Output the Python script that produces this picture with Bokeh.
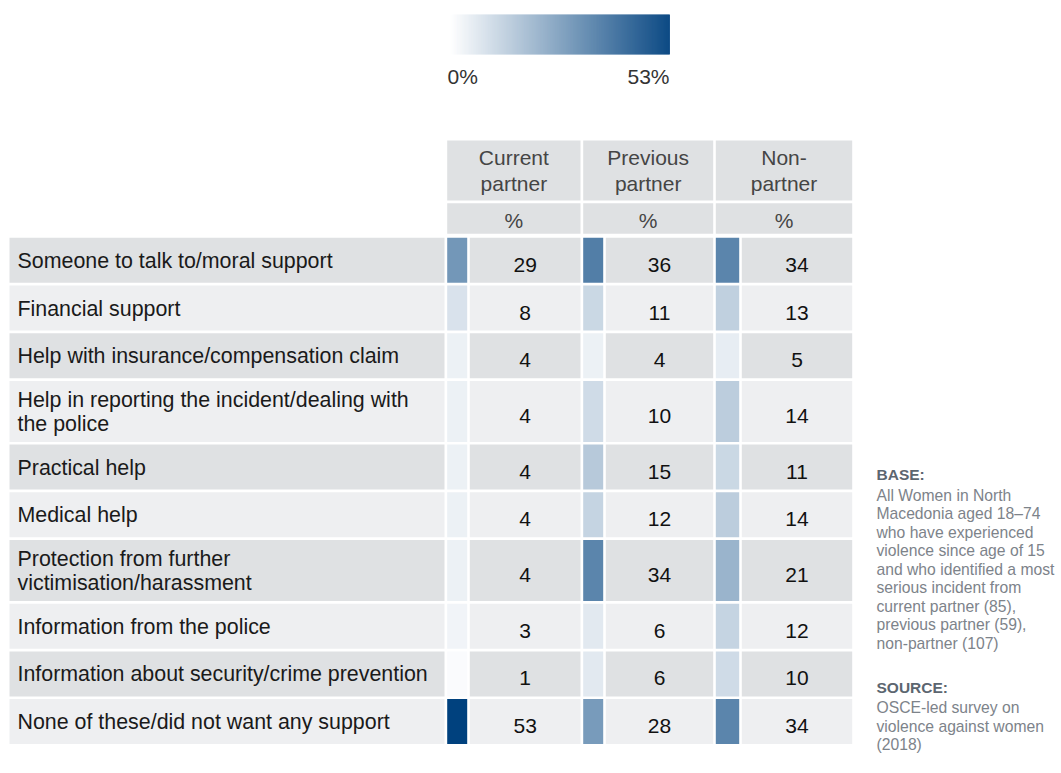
from bokeh.plotting import figure
from bokeh.models import Range1d, ColumnDataSource
from bokeh.core.properties import value
from bokeh.embed import file_html
from bokeh.resources import INLINE

# ---------------- data ----------------
categories = [
    "Someone to talk to/moral support",
    "Financial support",
    "Help with insurance/compensation claim",
    "Help in reporting the incident/dealing with\nthe police",
    "Practical help",
    "Medical help",
    "Protection from further\nvictimisation/harassment",
    "Information from the police",
    "Information about security/crime prevention",
    "None of these/did not want any support",
]
groups = ["Current\npartner", "Previous\npartner", "Non-\npartner"]
unit_label = "%"
current = [29, 8, 4, 4, 4, 4, 4, 3, 1, 53]
previous = [36, 11, 4, 10, 15, 12, 34, 6, 6, 28]
non_partner = [34, 13, 5, 14, 11, 14, 21, 12, 10, 34]
series = [current, previous, non_partner]

base_title = "BASE:"
base_lines = [
    "All Women in North",
    "Macedonia aged 18\u201374",
    "who have experienced",
    "violence since age of 15",
    "and who identified a most",
    "serious incident from",
    "current partner (85),",
    "previous partner (59),",
    "non-partner (107)",
]
source_title = "SOURCE:"
source_lines = ["OSCE-led survey on", "violence against women", "(2018)"]

# ---------------- style / layout ----------------
FONT = value("Liberation Sans")
W, H = 1061, 765
LOW = (255, 255, 255)
HIGH = (0, 65, 126)
ROW_ODD = "#dfe1e3"
ROW_EVEN = "#eeeff1"
HEAD_BG = "#dfe1e3"

vmax = max(max(s) for s in series)


def shade(v):
    t = v / vmax
    r, g, b = (round(lo + (hi - lo) * t) for lo, hi in zip(LOW, HIGH))
    return "#%02x%02x%02x" % (r, g, b)


p = figure(width=W, height=H, x_range=Range1d(0, W), y_range=Range1d(H, 0),
           output_backend="svg", toolbar_location=None, min_border=0,
           x_axis_location=None, y_axis_location=None)
p.grid.visible = False
p.outline_line_color = None
p.background_fill_color = "white"
p.border_fill_color = "white"

LABEL_X0, LABEL_X1 = 9.0, 444.0
COLS = [(446.7, 466.7, 469.3, 580.0), (582.7, 602.7, 605.3, 712.7), (715.3, 738.7, 741.3, 851.7)]
HEAD1 = (140.0, 200.0)
HEAD2 = (202.7, 233.3)
ROW_TOP0 = 237.3
ROW_H1 = 45.0
ROW_LINE_EXTRA = 16.0
ROW_GAP = 2.7
LABEL_LH = 24.5
HEAD_LH = 26.0

quads = dict(left=[], right=[], top=[], bottom=[], color=[])
texts = dict(x=[], y=[], text=[], align=[], color=[], size=[], style=[])


def add_quad(l, r, t, b, c):
    quads["left"].append(l); quads["right"].append(r)
    quads["top"].append(t); quads["bottom"].append(b); quads["color"].append(c)


def add_text(x, y, s, align="left", color="#1a1a1a", size="21px", style="normal"):
    texts["x"].append(x); texts["y"].append(y); texts["text"].append(s)
    texts["align"].append(align); texts["color"].append(color)
    texts["size"].append(size); texts["style"].append(style)


# header
for (s0, s1, v0, v1), g in zip(COLS, groups):
    add_quad(s0, v1, HEAD1[0], HEAD1[1], HEAD_BG)
    add_quad(s0, v1, HEAD2[0], HEAD2[1], HEAD_BG)
    cx = (s0 + v1) / 2
    lines = g.split("\n")
    cy = (HEAD1[0] + HEAD1[1]) / 2
    for k, ln in enumerate(lines):
        add_text(cx, cy + (k - (len(lines) - 1) / 2) * HEAD_LH, ln, "center", "#454545")
    add_text(cx, (HEAD2[0] + HEAD2[1]) / 2 + 1.5, unit_label, "center", "#454545")

# body rows
y = ROW_TOP0
for i, cat in enumerate(categories):
    lines = cat.split("\n")
    h = ROW_H1 + ROW_LINE_EXTRA * (len(lines) - 1)
    y0, y1 = y, y + h
    bg = ROW_ODD if i % 2 == 0 else ROW_EVEN
    add_quad(LABEL_X0, LABEL_X1, y0, y1, bg)
    cy = (y0 + y1) / 2
    for k, ln in enumerate(lines):
        add_text(17, cy + 0.5 + (k - (len(lines) - 1) / 2) * LABEL_LH, ln, "left", "#1a1a1a", "21.4px")
    for (s0, s1, v0, v1), s in zip(COLS, series):
        add_quad(s0, s1, y0, y1, shade(s[i]))
        add_quad(v0, v1, y0, y1, bg)
        add_text((v0 + v1) / 2, cy + 4.5, str(s[i]), "center", "#111111")
    y = y1 + ROW_GAP

# colour bar legend
CB_X0, CB_X1, CB_Y0, CB_Y1 = 450.0, 669.0, 14.0, 54.0
steps = int(CB_X1 - CB_X0)
for k in range(steps):
    v = vmax * (k + 0.5) / steps
    add_quad(CB_X0 + k * (CB_X1 - CB_X0) / steps, CB_X0 + (k + 1) * (CB_X1 - CB_X0) / steps + 0.4,
             CB_Y0, CB_Y1, shade(v))
add_text(447, 75.5, "0%", "left", "#333333")
add_text(669, 75.5, "%d%%" % vmax, "right", "#333333")

# notes
NX = 876
add_text(NX, 474, base_title, "left", "#5c6670", "15.5px", "bold")
for k, ln in enumerate(base_lines):
    add_text(NX, 494.5 + k * 18.5, ln, "left", "#7d838a", "15.7px")
add_text(NX, 687, source_title, "left", "#5c6670", "15.5px", "bold")
for k, ln in enumerate(source_lines):
    add_text(NX, 707 + k * 18.5, ln, "left", "#7d838a", "15.7px")

p.quad(left="left", right="right", top="top", bottom="bottom", fill_color="color",
       line_color=None, source=ColumnDataSource(quads))
p.text(x="x", y="y", text="text", text_align="align", text_color="color",
       text_font_size="size", text_font_style="style", text_baseline="middle",
       text_font=FONT, source=ColumnDataSource(texts))

open("out.html", "w").write(file_html(p, INLINE))
